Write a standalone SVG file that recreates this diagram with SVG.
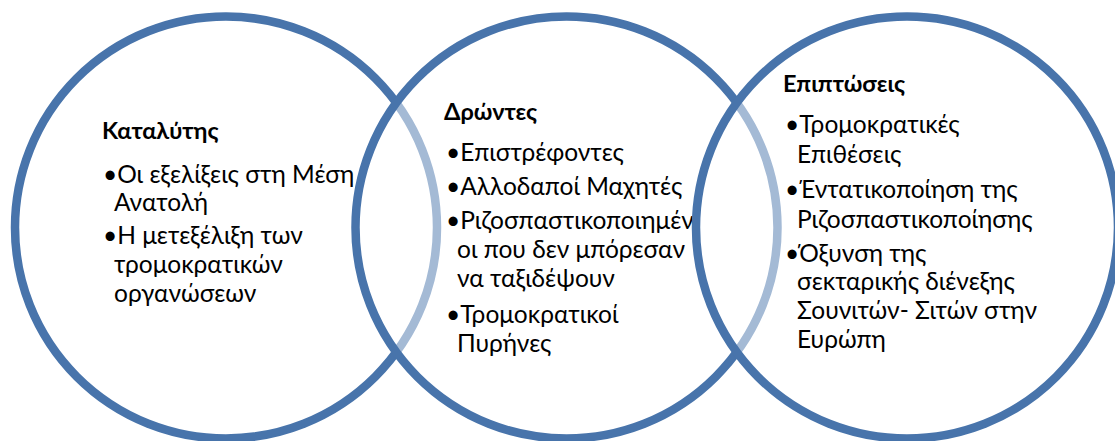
<svg xmlns="http://www.w3.org/2000/svg" width="1115" height="441" viewBox="0 0 1115 441">
<style>
.c{fill:#ffffff;fill-opacity:0.5;stroke:#4874AB;stroke-width:8.5}
text{font-family:Lato,"Open Sans","Liberation Sans",sans-serif;font-size:24.5px;fill:#000}
.t{font-weight:bold;font-size:23.5px}
</style>
<rect width="1115" height="441" fill="#ffffff"/>
<g id="node-katalytis">
<circle class="c" cx="226" cy="227.5" r="211"/>
<text class="t" x="102" y="139">Καταλύτης</text>
<text x="103" y="183">•Οι εξελίξεις στη Μέση</text>
<text x="114" y="211">Ανατολή</text>
<text x="103" y="244">•Η μετεξέλιξη των</text>
<text x="114" y="273">τρομοκρατικών</text>
<text x="114" y="302">οργανώσεων</text>
</g>
<g id="node-drontes">
<circle class="c" cx="566.5" cy="227.5" r="211"/>
<text class="t" x="444" y="120">Δρώντες</text>
<text x="446" y="161">•Επιστρέφοντες</text>
<text x="446" y="195">•Αλλοδαποί Μαχητές</text>
<text x="446" y="229">•Ριζοσπαστικοποιημέν</text>
<text x="457" y="258">οι που δεν μπόρεσαν</text>
<text x="457" y="287">να ταξιδέψουν</text>
<text x="446" y="323">•Τρομοκρατικοί</text>
<text x="457" y="352">Πυρήνες</text>
</g>
<g id="node-epiptoseis">
<circle class="c" cx="907" cy="227.5" r="211"/>
<text class="t" x="783" y="92">Επιπτώσεις</text>
<text x="785" y="133">•Τρομοκρατικές</text>
<text x="797" y="163">Επιθέσεις</text>
<text x="785" y="198">•Έντατικοποίηση της</text>
<text x="797" y="228">Ριζοσπαστικοποίησης</text>
<text x="785" y="262">•Όξυνση της</text>
<text x="797" y="290">σεκταρικής διένεξης</text>
<text x="797" y="319">Σουνιτών- Σιτών στην</text>
<text x="797" y="348">Ευρώπη</text>
</g>
<g id="connectors"></g>
</svg>
